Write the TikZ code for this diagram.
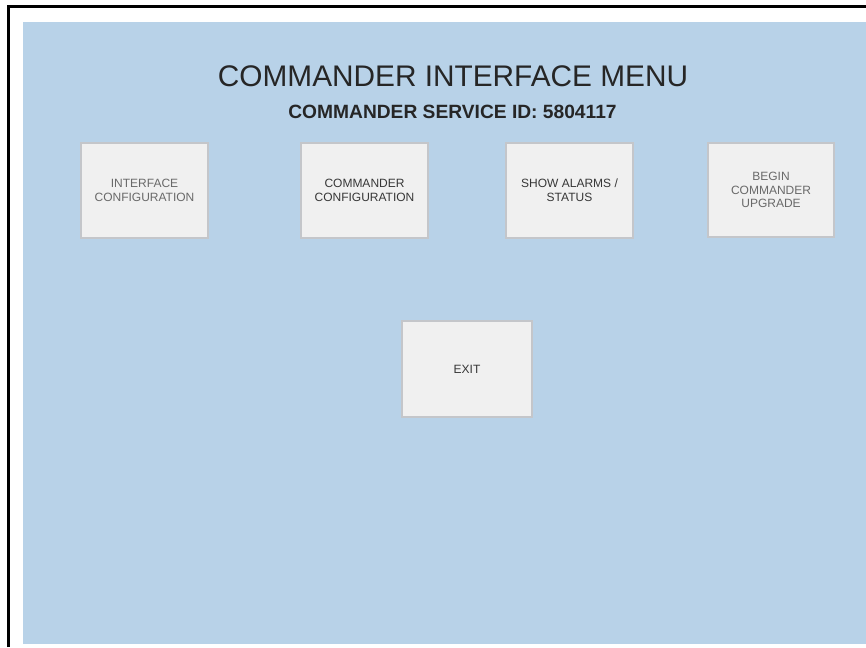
\documentclass[tikz,border=0pt]{standalone}
\usepackage{fontspec}
\setmainfont{Liberation Sans}
\definecolor{screenblue}{RGB}{184,210,232}
\definecolor{btnfill}{RGB}{240,240,240}
\definecolor{btnedge}{RGB}{196,198,202}
\definecolor{txtdark}{RGB}{55,55,55}
\definecolor{txtlight}{RGB}{105,105,105}
\tikzset{
  btn/.style={draw=btnedge, fill=btnfill, line width=1.6pt, minimum width=127pt, minimum height=95pt,
    inner sep=0pt, align=center, font=\fontsize{12}{13.8}\selectfont},
}
\begin{document}
\begin{tikzpicture}[x=1pt,y=-1pt]
\useasboundingbox (0,0) rectangle (866,647);
\fill[white] (0,0) rectangle (866,647);
\fill[screenblue] (23,22) rectangle (866,644);
\draw[line width=2.5pt] (8.5,647) -- (8.5,6.5) -- (866,6.5);
\node[font=\fontsize{29.8}{32}\selectfont, text=black!85] (title) at (453,76) {COMMANDER INTERFACE MENU};
\node[font=\bfseries\fontsize{19.2}{22}\selectfont, text=black!85] (sid) at (452.5,112) {COMMANDER SERVICE ID: 5804117};
\node[btn, text=txtlight] (b1) at (144.5,190.5) {INTERFACE\\CONFIGURATION};
\node[btn, text=txtdark] (b2) at (364.5,190.5) {COMMANDER\\CONFIGURATION};
\node[btn, text=txtdark] (b3) at (569.5,190.5) {SHOW ALARMS /\\STATUS};
\node[btn, text=txtlight, minimum width=126pt, minimum height=94pt] (b4) at (771,190) {BEGIN\\COMMANDER\\UPGRADE};
\node[btn, text=txtdark, minimum width=130pt, minimum height=96pt] (exit) at (467,369) {EXIT};
\end{tikzpicture}
\end{document}
